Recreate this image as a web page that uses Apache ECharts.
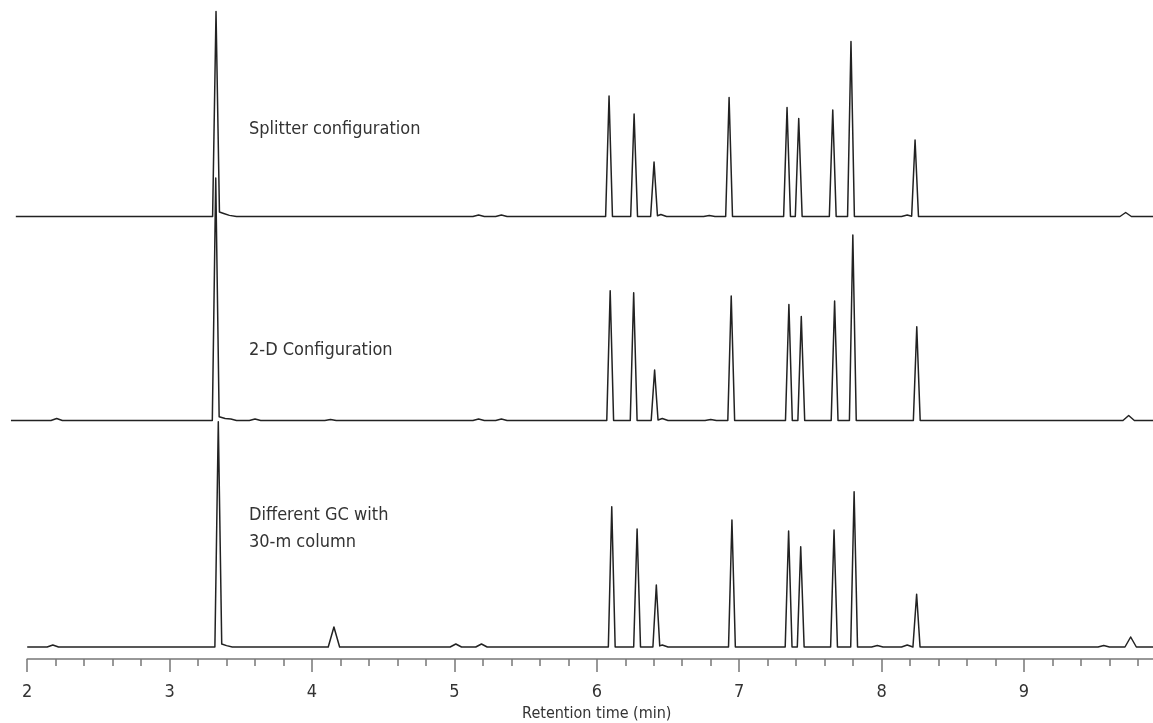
<!DOCTYPE html>
<html lang="en">
<head>
  <meta charset="UTF-8">
  <title>Chromatograms</title>
  <script src="https://cdn.jsdelivr.net/npm/echarts@6/dist/echarts.min.js"></script>
  <style>html, body { margin: 0; background: #fff; }</style>
</head>
<body>
<div id="main" style="width: 1153px;height:723px;"></div>
<script type="text/javascript">

// peaks: retention time (min) and height above baseline
const splitterStart = 1.92;
const splitterTimes = [3.326, 3.35, 3.38, 3.43, 5.17, 5.33, 6.086, 6.262, 6.402, 6.45, 6.79, 6.929, 7.336, 7.418, 7.657, 7.785, 8.18, 8.235, 9.714];
const splitterHeights = [203.5, 4, 2, 1.5, 1.5, 1.5, 120.5, 102.5, 54.5, 2, 1, 119, 109, 98, 106.5, 175, 1.5, 76.5, 4];

const twoDStart = 1.886;
const twoDTimes = [2.207, 3.324, 3.35, 3.39, 3.43, 3.6, 4.13, 5.17, 5.33, 6.094, 6.259, 6.406, 6.46, 6.8, 6.944, 7.349, 7.436, 7.67, 7.798, 8.247, 9.735];
const twoDHeights = [2, 241, 4, 2, 1.5, 1.5, 1, 1.5, 1.5, 129.8, 127.8, 50.5, 2, 1, 124.5, 116, 104, 119.5, 185.5, 93.8, 5];

const otherGCStart = 2.0;
const otherGCTimes = [2.18, 3.342, 3.365, 3.4, 4.154, 5.01, 5.19, 6.105, 6.283, 6.418, 6.46, 6.949, 7.347, 7.432, 7.666, 7.807, 7.97, 8.18, 8.246, 9.56, 9.749];
const otherGCHeights = [2, 224, 3, 1, 20, 3, 3, 140.3, 118, 62, 2, 127, 116, 100.3, 117, 155.3, 1.5, 2, 52.7, 1.5, 10];

const traceNames = ['Splitter configuration', '2-D Configuration', 'Different GC with\n30-m column'];
const tickValues = [2, 3, 4, 5, 6, 7, 8, 9];

// turn the peak list into a polyline: each peak is a narrow spike on the baseline
function trace(start, times, heights) {
  const halfW = times.map((t, i) => heights[i] < 30 ? 0.04 : 0.024);
  const xs = [start, 10];
  times.forEach((t, i) => xs.push(t - halfW[i], t, t + halfW[i]));
  xs.sort((a, b) => a - b);
  return xs.map(x => {
    let y = 0;
    times.forEach((t, i) => {
      const d = Math.abs(x - t);
      if (d < halfW[i]) y += heights[i] * (1 - d / halfW[i]);
    });
    return [x, y];
  });
}

const myChart = echarts.init(document.getElementById('main'));

// 142.4 px per minute, 2 min sits at x = 27.2
const pxPerMin = 142.4;
const traceMin = 1.85, axisMin = 2, axisMax = 10;
const traceLeft = 27.2 - (axisMin - traceMin) * pxPerMin;
const traceWidth = (axisMax - traceMin) * pxPerMin;
const font = '"Liberation Sans Narrow", "DejaVu Sans Condensed", Roboto, sans-serif';
const lineStyle = {color: '#222', width: 1.5, join: 'round'};

const option = {
  animation: false,
  grid: [
    {left: traceLeft, width: traceWidth, top: 6.5, height: 210, outerBoundsMode: 'none'},
    {left: traceLeft, width: traceWidth, top: 170.5, height: 250, outerBoundsMode: 'none'},
    {left: traceLeft, width: traceWidth, top: 417, height: 230, outerBoundsMode: 'none'},
    {left: 27.2, width: (axisMax - axisMin) * pxPerMin, top: 658, height: 1, outerBoundsMode: 'none'}
  ],
  xAxis: [
    {type: 'value', gridIndex: 0, min: traceMin, max: axisMax, show: false},
    {type: 'value', gridIndex: 1, min: traceMin, max: axisMax, show: false},
    {type: 'value', gridIndex: 2, min: traceMin, max: axisMax, show: false},
    {
      type: 'value', gridIndex: 3, min: axisMin, max: axisMax, interval: 1,
      name: 'Retention time (min)',
      nameLocation: 'middle',
      nameGap: 47,
      nameTextStyle: {fontFamily: font, fontSize: 16, color: '#333'},
      splitLine: {show: false},
      axisLine: {onZero: false, lineStyle: {color: '#777', width: 1.5}},
      axisTick: {length: 13, lineStyle: {color: '#777', width: 1.5}},
      minorTick: {show: true, splitNumber: 5, length: 7, lineStyle: {color: '#777', width: 1.5}},
      axisLabel: {
        margin: 24,
        fontFamily: font,
        fontSize: 18,
        color: '#333',
        formatter: v => tickValues.includes(v) ? String(v) : ''
      }
    }
  ],
  yAxis: [
    {type: 'value', gridIndex: 0, min: 0, max: 210, show: false},
    {type: 'value', gridIndex: 1, min: 0, max: 250, show: false},
    {type: 'value', gridIndex: 2, min: 0, max: 230, show: false},
    {type: 'value', gridIndex: 3, min: 0, max: 1, show: false}
  ],
  series: [
    {name: traceNames[0], type: 'line', xAxisIndex: 0, yAxisIndex: 0, showSymbol: false, clip: false,
      lineStyle: lineStyle, data: trace(splitterStart, splitterTimes, splitterHeights)},
    {name: traceNames[1], type: 'line', xAxisIndex: 1, yAxisIndex: 1, showSymbol: false, clip: false,
      lineStyle: lineStyle, data: trace(twoDStart, twoDTimes, twoDHeights)},
    {name: traceNames[2], type: 'line', xAxisIndex: 2, yAxisIndex: 2, showSymbol: false, clip: false,
      lineStyle: lineStyle, data: trace(otherGCStart, otherGCTimes, otherGCHeights)}
  ],
  graphic: [
    {type: 'text', left: 249, top: 120, style: {text: traceNames[0], font: '18px ' + font, fill: '#333'}},
    {type: 'text', left: 249, top: 341, style: {text: traceNames[1], font: '18px ' + font, fill: '#333'}},
    {type: 'text', left: 249, top: 502, style: {text: traceNames[2], font: '18px ' + font, fill: '#333', lineHeight: 27}}
  ]
};
myChart.setOption(option);
</script>
</body>
</html>
